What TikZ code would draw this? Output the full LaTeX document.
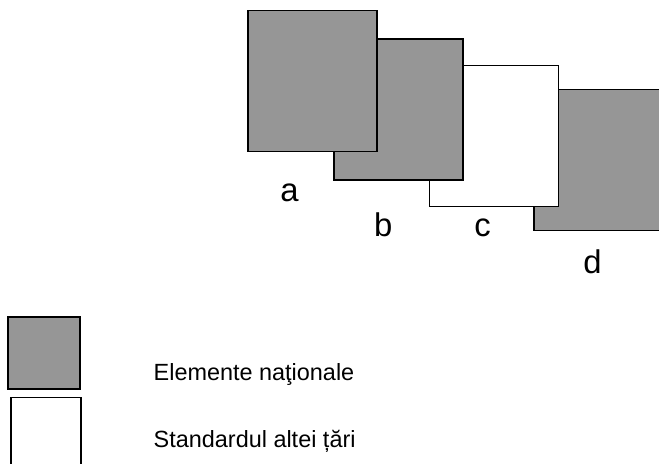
\documentclass[tikz,border=0pt]{standalone}
\usepackage{fontspec}
\setmainfont{Liberation Sans}
\usetikzlibrary{positioning}
\definecolor{natgray}{RGB}{150,150,150}

\begin{document}
\begin{tikzpicture}[x=0.03cm,y=-0.03cm,line width=1.2pt,
    box/.style={rectangle,draw=black,inner sep=0pt,minimum width=3.87cm,minimum height=4.23cm},
    nat box/.style={box,fill=natgray}, alt box/.style={box,fill=white},
    lbl/.style={font=\fontsize{28}{32}\selectfont,inner sep=0pt,anchor=base},
    legend text/.style={font=\fontsize{20}{24}\selectfont,inner sep=0pt,anchor=base west}]
   \useasboundingbox (0,0) rectangle (659,463);
   \clip (0,0) rectangle (659,463);
   % boxes, back to front
   \node[nat box] (d) at (598.5,160) {};
   \node[alt box] (c) at (494,136) {};
   \node[nat box] (b) at (398.5,109.5) {};
   \node[nat box] (a) at (312.5,81) {};
   \node[lbl] (la) at (289.5,201.7) {a};
   \node[lbl] (lb) at (383.3,236.7) {b};
   \node[lbl] (lc) at (482.5,236.7) {c};
   \node[lbl] (ld) at (592.5,273) {d};
   % legend
   \node[nat box,minimum width=2.16cm,minimum height=2.16cm] (g) at (44,353) {};
   \node[alt box,minimum width=2.1cm,minimum height=2.2cm] (w) at (46,434) {};
   \node[legend text] (lg) at (153,380) {Elemente na\symbol{"0163}ionale};
   \node[legend text] (lw) at (153,447) {Standardul altei \symbol{"021B}\symbol{"0103}ri};
\end{tikzpicture}
\end{document}
